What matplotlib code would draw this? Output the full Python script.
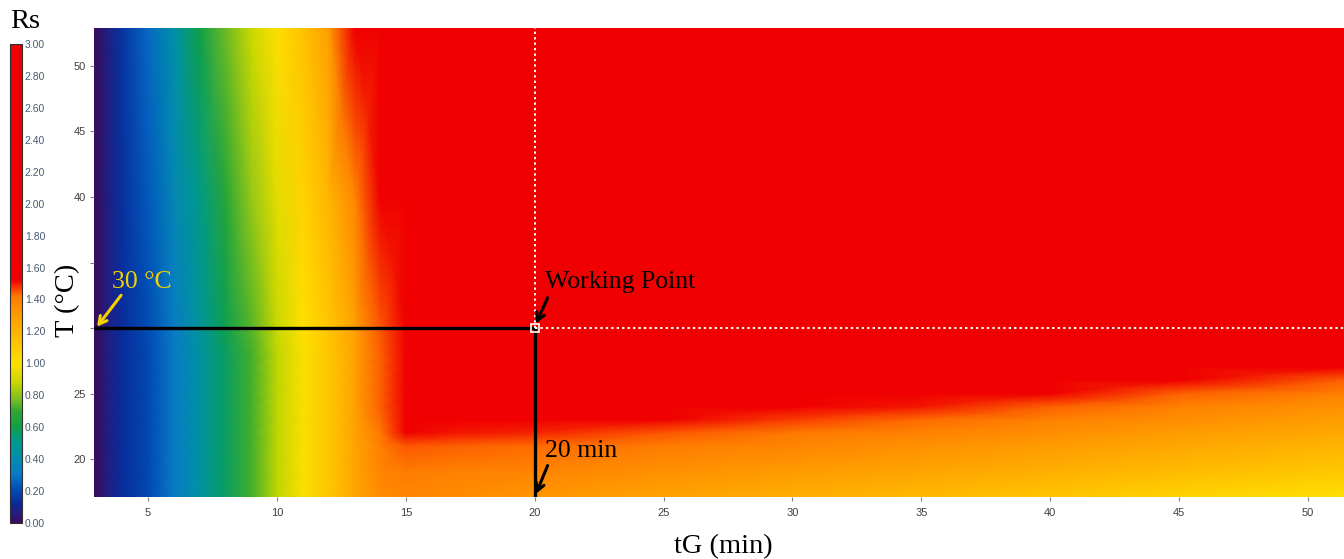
import numpy as np
import matplotlib
matplotlib.use("Agg")
import matplotlib.pyplot as plt
from matplotlib.colors import LinearSegmentedColormap

# ---------------- data ----------------
tG_grid = [2.9, 3.5, 4, 5, 6, 7, 8, 9, 10, 11, 12, 13, 14, 15, 17, 20, 25, 30, 35, 40, 45, 51.4]
T_grid = [17.1, 19, 21, 22, 23, 24, 25, 26, 27, 28, 30, 40, 52.9]

Rs_T17 = [0, .08, .13, .20, .31, .44, .57, .72, .87, .99, 1.11, 1.25, 1.36, 1.38, 1.36, 1.32, 1.27, 1.22, 1.17, 1.12, 1.06, 1.00]
Rs_T19 = [0, .08, .13, .20, .31, .44, .57, .72, .87, .99, 1.11, 1.26, 1.38, 1.41, 1.39, 1.38, 1.34, 1.30, 1.26, 1.21, 1.16, 1.10]
Rs_T21 = [0, .08, .13, .20, .31, .44, .57, .72, .87, .99, 1.11, 1.26, 1.40, 1.45, 1.44, 1.43, 1.41, 1.38, 1.34, 1.30, 1.25, 1.19]
Rs_T22 = [0, .08, .13, .20, .31, .44, .57, .72, .87, .99, 1.11, 1.27, 1.42, 1.52, 1.50, 1.49, 1.45, 1.42, 1.39, 1.35, 1.30, 1.24]
Rs_T23 = [0, .08, .13, .20, .31, .44, .57, .72, .87, .99, 1.11, 1.27, 1.43, 1.56, 1.60, 1.60, 1.57, 1.47, 1.43, 1.39, 1.35, 1.29]
Rs_T24 = [0, .08, .13, .20, .31, .44, .57, .72, .87, .99, 1.11, 1.27, 1.44, 1.57, 1.60, 1.60, 1.60, 1.58, 1.50, 1.44, 1.39, 1.34]
Rs_T25 = [0, .08, .13, .20, .31, .44, .57, .72, .87, .99, 1.11, 1.27, 1.44, 1.57, 1.60, 1.60, 1.60, 1.60, 1.60, 1.53, 1.44, 1.39]
Rs_T26 = [0, .08, .13, .20, .31, .44, .57, .72, .87, .99, 1.11, 1.27, 1.44, 1.57, 1.60, 1.60, 1.60, 1.60, 1.60, 1.60, 1.55, 1.44]
Rs_T27 = [0, .08, .13, .20, .31, .44, .57, .72, .87, .99, 1.11, 1.27, 1.44, 1.57, 1.60, 1.60, 1.60, 1.60, 1.60, 1.60, 1.60, 1.53]
Rs_T28 = [0, .08, .13, .20, .31, .44, .57, .72, .87, .99, 1.11, 1.27, 1.44, 1.57, 1.60, 1.60, 1.60, 1.60, 1.60, 1.60, 1.60, 1.60]
Rs_T30 = [0, .08, .13, .21, .32, .46, .59, .74, .88, 1.00, 1.12, 1.28, 1.45, 1.58, 1.60, 1.60, 1.60, 1.60, 1.60, 1.60, 1.60, 1.60]
Rs_T40 = [0, .08, .14, .24, .37, .52, .67, .81, .94, 1.06, 1.19, 1.37, 1.54, 1.60, 1.60, 1.60, 1.60, 1.60, 1.60, 1.60, 1.60, 1.60]
Rs_T53 = [0, .08, .15, .27, .42, .60, .76, .89, 1.01, 1.13, 1.29, 1.52, 1.60, 1.60, 1.60, 1.60, 1.60, 1.60, 1.60, 1.60, 1.60, 1.60]

x_ticks = [5, 10, 15, 20, 25, 30, 35, 40, 45, 50]
y_ticks = [20, 25, 30, 35, 40, 45, 50]
y_ticklabels = ["20", "25", "", "", "40", "45", "50"]
cb_ticks = [0.0, 0.2, 0.4, 0.6, 0.8, 1.0, 1.2, 1.4, 1.6, 1.8, 2.0, 2.2, 2.4, 2.6, 2.8, 3.0]

wp_tG = 20
wp_T = 30

# ---------------- colormap ----------------
cm_nodes = [0.00, 0.05, 0.12, 0.22, 0.30, 0.42, 0.52, 0.60, 0.70, 0.78, 0.88, 1.00, 1.15,
            1.30, 1.42, 1.48, 1.52, 3.00]
cm_colors = ["#3c0a5a", "#2a1a78", "#0a2a98", "#0050b8", "#0a78c8", "#0090a8", "#009a88",
             "#10a048", "#30a830", "#80c020", "#c8d800", "#ffe000", "#ffbe00", "#ff9c00",
             "#ff7a00", "#f83000", "#f00000", "#f00000"]
cmap = LinearSegmentedColormap.from_list(
    "rs", [(v / 3.0, c) for v, c in zip(cm_nodes, cm_colors)], N=1024)

Rs = np.array([Rs_T17, Rs_T19, Rs_T21, Rs_T22, Rs_T23, Rs_T24, Rs_T25, Rs_T26,
               Rs_T27, Rs_T28, Rs_T30, Rs_T40, Rs_T53])
X, Y = np.meshgrid(tG_grid, T_grid)

W, H = 1344, 559
fig = plt.figure(figsize=(W / 100, H / 100), dpi=100)
fig.patch.set_facecolor("white")

ax = fig.add_axes([94 / W, (H - 497) / H, (W - 94) / W, (497 - 28) / H])
mesh = ax.pcolormesh(X, Y, Rs, shading="gouraud", cmap=cmap, vmin=0, vmax=3, rasterized=True)
ax.set_xlim(tG_grid[0], tG_grid[-1])
ax.set_ylim(T_grid[0], T_grid[-1])
for s in ax.spines.values():
    s.set_visible(False)

ax.set_xticks(x_ticks)
ax.set_xticklabels([str(v) for v in x_ticks])
ax.set_yticks(y_ticks)
ax.set_yticklabels(y_ticklabels)
ax.tick_params(axis="both", length=3, width=0.8, color="#808080", labelcolor="#404040",
               labelsize=8)
ax.tick_params(axis="x", pad=5)
ax.tick_params(axis="y", pad=3)
for lab in ax.get_xticklabels() + ax.get_yticklabels():
    lab.set_family("Liberation Sans")

serif = "Liberation Serif"
# lines to the working point
ax.plot([tG_grid[0], wp_tG], [wp_T, wp_T], color="black", lw=2.4, solid_capstyle="butt", zorder=3)
ax.plot([wp_tG, wp_tG], [T_grid[0], wp_T], color="black", lw=2.4, solid_capstyle="butt", zorder=3)
ax.plot([wp_tG, wp_tG], [wp_T, T_grid[-1]], color="white", lw=1.4, ls=(0, (1.2, 1.6)), zorder=3)
ax.plot([wp_tG, tG_grid[-1]], [wp_T, wp_T], color="white", lw=1.4, ls=(0, (1.2, 1.6)), zorder=3)
ax.plot([wp_tG], [wp_T], marker="s", ms=6, mfc="none", mec="white", mew=1.2, zorder=4)

arrow_style = "->,head_length=0.55,head_width=0.3"
ax.annotate("", xy=(20.05, 30.35), xytext=(20.5, 32.3),
            arrowprops=dict(arrowstyle=arrow_style, color="black", lw=2.2, shrinkA=0, shrinkB=0))
ax.text(20.4, 33.05, "Working Point", family=serif, fontsize=18.5, color="black", va="baseline")

ax.annotate("", xy=(20.05, 17.35), xytext=(20.5, 19.5),
            arrowprops=dict(arrowstyle=arrow_style, color="black", lw=2.2, shrinkA=0, shrinkB=0))
ax.text(20.4, 20.15, "20 min", family=serif, fontsize=18.5, color="black", va="baseline")

ax.annotate("", xy=(3.02, 30.1), xytext=(3.95, 32.5),
            arrowprops=dict(arrowstyle=arrow_style, color="#f5d000", lw=2.2, shrinkA=0, shrinkB=0))
ax.text(3.6, 33.05, "30 °C", family=serif, fontsize=18.5, color="#f5d000", va="baseline")

# axis labels
fig.text(723 / W, 1 - 547 / H, "tG (min)", family=serif, fontsize=20.5, ha="center", va="center")
fig.text(68 / W, 1 - 300 / H, "T (°C)", family=serif, fontsize=20.5, ha="center", va="center",
         rotation=90)
fig.text(25 / W, 1 - 22 / H, "Rs", family=serif, fontsize=20.5, ha="center", va="center")

# colorbar
cax = fig.add_axes([10 / W, (H - 523) / H, 12 / W, 479 / H])
cb = fig.colorbar(mesh, cax=cax, ticks=cb_ticks)
cb.set_ticklabels(["%.2f" % v for v in cb_ticks])
cb.outline.set_edgecolor("#303030")
cb.outline.set_linewidth(0.8)
cax.tick_params(length=0, pad=2, labelsize=7.5, labelcolor="#4a5a70")
for lab in cax.get_yticklabels():
    lab.set_family("Liberation Sans")

fig.savefig("out.png", dpi=100)
